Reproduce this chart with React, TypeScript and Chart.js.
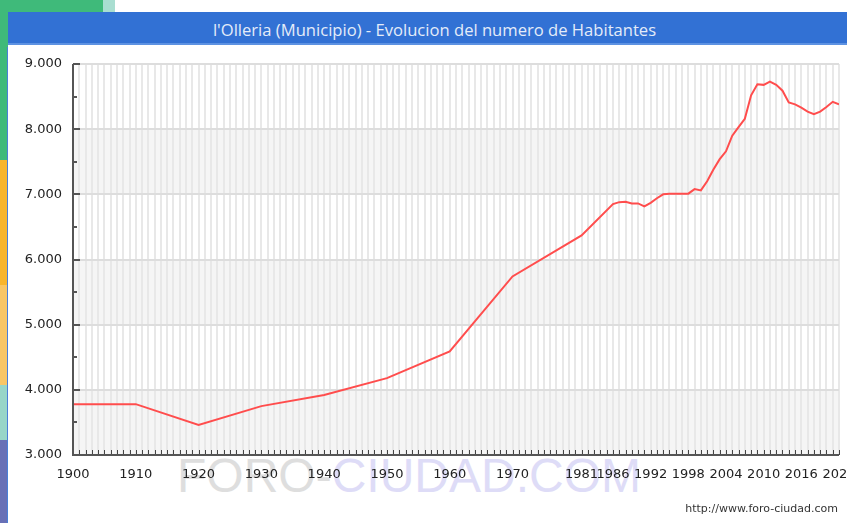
import React, { useEffect, useRef } from 'react';
import { Chart, registerables } from 'chart.js';

Chart.register(...registerables);

// Population data
const years = [
  1900, 1910, 1920, 1930, 1940, 1950, 1960, 1970, 1981, 1986,
  1987, 1988, 1989, 1990, 1991, 1992, 1993, 1994, 1995, 1996,
  1997, 1998, 1999, 2000, 2001, 2002, 2003, 2004, 2005, 2006,
  2007, 2008, 2009, 2010, 2011, 2012, 2013, 2014, 2015, 2016,
  2017, 2018, 2019, 2020, 2021, 2022,
];
const population = [
  3780, 3780, 3460, 3750, 3920, 4180, 4590, 5740, 6370, 6850,
  6880, 6885, 6860, 6860, 6815, 6870, 6940, 7000, 7010, 7010,
  7010, 7010, 7080, 7060, 7200, 7380, 7540, 7660, 7900, 8030,
  8160, 8520, 8690, 8680, 8730, 8680, 8590, 8410, 8380, 8330,
  8270, 8230, 8270, 8340, 8420, 8380,
];
const xLabelYears = [1900, 1910, 1920, 1930, 1940, 1950, 1960, 1970, 1981, 1986, 1992, 1998, 2004, 2010, 2016, 2022];
const yTickValues = [3000, 4000, 5000, 6000, 7000, 8000, 9000];
const X_MIN = 1900;
const X_MAX = 2022;

const fmt = (v: number) => String(v).replace(/\B(?=(\d{3})+(?!\d))/g, '.');

const decorPlugin = {
  id: 'decor',
  beforeDraw(chart: any) {
    const { ctx, chartArea: a, scales } = chart;
    const y = scales.y;
    ctx.save();
    ctx.fillStyle = '#f5f5f5';
    for (let i = 0; i < yTickValues.length - 1; i += 2) {
      const top = y.getPixelForValue(yTickValues[i + 1]);
      const bottom = y.getPixelForValue(yTickValues[i]);
      ctx.fillRect(a.left, top, a.right - a.left, bottom - top);
    }
    ctx.restore();
  },
  afterDraw(chart: any) {
    const { ctx, chartArea: a, scales } = chart;
    const x = scales.x;
    const y = scales.y;
    ctx.save();
    // x tick marks (inside)
    ctx.strokeStyle = '#444';
    ctx.lineWidth = 1;
    ctx.beginPath();
    for (let yr = X_MIN; yr <= X_MAX; yr++) {
      const px = Math.round(x.getPixelForValue(yr)) + 0.5;
      ctx.moveTo(px, a.bottom);
      ctx.lineTo(px, a.bottom - 5);
    }
    ctx.stroke();
    // y tick marks (inside)
    ctx.strokeStyle = '#555';
    ctx.lineWidth = 2;
    ctx.beginPath();
    for (let i = 0; i < yTickValues.length; i++) {
      const py = Math.round(y.getPixelForValue(yTickValues[i]));
      ctx.moveTo(a.left, py);
      ctx.lineTo(a.left + 7, py);
      if (i < yTickValues.length - 1) {
        const mid = (yTickValues[i] + yTickValues[i + 1]) / 2;
        const pm = Math.round(y.getPixelForValue(mid));
        ctx.moveTo(a.left, pm);
        ctx.lineTo(a.left + 4, pm);
      }
    }
    ctx.stroke();
    // axis lines
    ctx.strokeStyle = '#555';
    ctx.lineWidth = 2;
    ctx.beginPath();
    ctx.moveTo(a.left, a.top);
    ctx.lineTo(a.left, a.bottom);
    ctx.lineTo(a.right, a.bottom);
    ctx.stroke();
    ctx.restore();
  },
};

function PopulationChart() {
  const ref = useRef<HTMLCanvasElement | null>(null);
  useEffect(() => {
    if (!ref.current) return;
    const chart = new Chart(ref.current, {
      type: 'line',
      data: {
        datasets: [
          {
            label: 'Habitantes',
            data: years.map((yr, i) => ({ x: yr, y: population[i] })),
            borderColor: '#ff4d4d',
            borderWidth: 2,
            pointRadius: 0,
            tension: 0,
            fill: false,
          },
        ],
      },
      options: {
        responsive: false,
        animation: false,
        events: [],
        layout: { padding: { left: 0, top: 17, right: 8, bottom: 0 } },
        plugins: {
          legend: { display: false },
          title: { display: false },
          tooltip: { enabled: false },
        },
        scales: {
          x: {
            type: 'linear',
            min: X_MIN,
            max: X_MAX,
            offset: false,
            afterBuildTicks: (scale: any) => {
              const t = [];
              for (let yr = X_MIN; yr <= X_MAX; yr++) t.push({ value: yr });
              scale.ticks = t;
            },
            afterFit: (scale: any) => {
              scale.height = 68;
              scale.paddingLeft = 0;
              scale.paddingRight = 0;
            },
            grid: { color: '#e8e8e8', lineWidth: 2, drawTicks: false },
            border: { display: false },
            ticks: {
              autoSkip: false,
              maxRotation: 0,
              minRotation: 0,
              padding: 12,
              color: '#222',
              font: { family: 'DejaVu Sans', size: 13 },
              callback: (v: any) => (xLabelYears.includes(Number(v)) ? String(v) : ''),
            },
          },
          y: {
            type: 'linear',
            min: 3000,
            max: 9000,
            afterBuildTicks: (scale: any) => {
              scale.ticks = yTickValues.map((v) => ({ value: v }));
            },
            afterFit: (scale: any) => {
              scale.width = 65;
              scale.paddingTop = 0;
              scale.paddingBottom = 0;
            },
            grid: { color: '#dddddd', lineWidth: 2, drawTicks: false },
            border: { display: false },
            ticks: {
              padding: 11,
              color: '#222',
              font: { family: 'DejaVu Sans', size: 13 },
              callback: (v: any) => fmt(Number(v)),
            },
          },
        },
      },
      plugins: [decorPlugin],
    });
    return () => chart.destroy();
  }, []);
  return (
    <canvas
      ref={ref}
      width={839}
      height={476}
      style={{ position: 'absolute', left: 8, top: 47, width: 839, height: 476 }}
    />
  );
}

export default function App() {
  return (
    <div
      style={{
        position: 'fixed',
        left: 0,
        top: 0,
        width: 847,
        height: 523,
        background: '#ffffff',
        overflow: 'hidden',
      }}
    >
      {/* left decorative stripe */}
      <div style={{ position: 'absolute', left: 0, top: 0, width: 8, height: 160, background: '#3fba7a' }} />
      <div style={{ position: 'absolute', left: 0, top: 160, width: 8, height: 125, background: '#f8b52c' }} />
      <div style={{ position: 'absolute', left: 0, top: 285, width: 8, height: 100, background: '#f9c665' }} />
      <div style={{ position: 'absolute', left: 0, top: 385, width: 8, height: 55, background: '#98d6c8' }} />
      <div style={{ position: 'absolute', left: 0, top: 440, width: 8, height: 83, background: '#6870b6' }} />
      <div style={{ position: 'absolute', left: 0, top: 0, width: 103, height: 12, background: '#3fba7a' }} />
      <div style={{ position: 'absolute', left: 103, top: 0, width: 12, height: 12, background: '#a9ded1' }} />
      {/* panel left border */}
      <div style={{ position: 'absolute', left: 7, top: 47, width: 1, height: 476, background: '#4a80d8' }} />
      {/* title bar */}
      <div
        style={{
          position: 'absolute',
          left: 8,
          top: 12,
          width: 839,
          height: 33,
          background: '#3271d4',
          borderBottom: '2px solid #5d92e2',
          color: '#e4ecf9',
          fontFamily: '"Open Sans", "DejaVu Sans", sans-serif',
          fontSize: 16.6,
          lineHeight: '35px',
          textAlign: 'center',
          paddingLeft: 14,
          boxSizing: 'border-box',
          whiteSpace: 'nowrap',
        }}
      >
        l'Olleria (Municipio) - Evolucion del numero de Habitantes
      </div>
      {/* watermark */}
      <div
        style={{
          position: 'absolute',
          left: 177,
          top: 452,
          fontFamily: '"Liberation Sans", Arial, sans-serif',
          fontSize: 48,
          lineHeight: '48px',
          whiteSpace: 'nowrap',
        }}
      >
        <span style={{ color: '#dedede' }}>FORO-</span>
        <span style={{ color: '#dedcf7' }}>CIUDAD.COM</span>
      </div>
      <PopulationChart />
      {/* footer */}
      <div
        style={{
          position: 'absolute',
          left: 0,
          top: 502,
          width: 838,
          textAlign: 'right',
          fontFamily: '"DejaVu Sans", Verdana, sans-serif',
          fontSize: 11,
          lineHeight: '13px',
          color: '#333',
          whiteSpace: 'nowrap',
        }}
      >
        http://www.foro-ciudad.com
      </div>
    </div>
  );
}
